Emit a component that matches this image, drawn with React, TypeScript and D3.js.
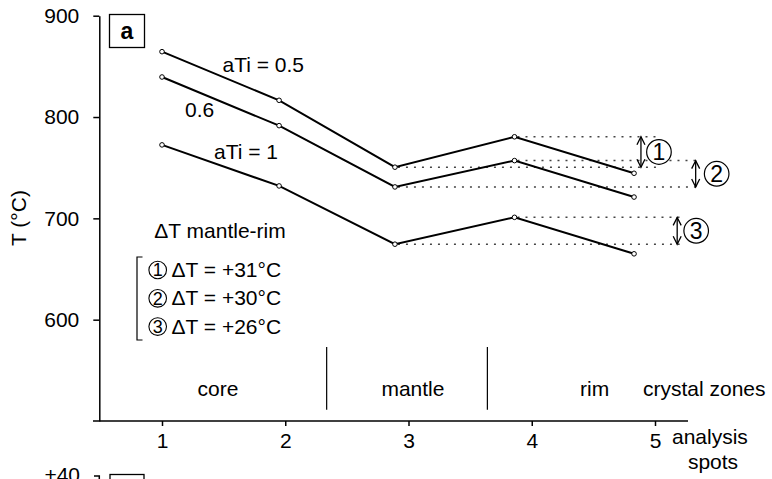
import React, { useEffect, useRef } from "react";
import * as d3 from "d3";

// analysis spots (as placed along the x axis) and temperatures per aTi
const spots = [1, 1.95, 2.89, 3.86, 4.83];
const tAti05 = [864.5, 816.5, 750.5, 780.5, 744.5];
const tAti06 = [839.5, 791.5, 731, 757, 721];
const tAti1 = [772.5, 732, 674.5, 701, 665];
const seriesNames = ["aTi = 0.5", "0.6", "aTi = 1"];

const xTicks = [1, 2, 3, 4, 5];
const yTicks = [600, 700, 800, 900];

const zoneNames = ["core", "mantle", "rim"];
const zoneCenters = [1.454, 3.036, 4.51];
const zoneBounds = [2.336, 3.64];

const circledNumbers = ["1", "2", "3"];
const deltaLabels = ["ΔT = +31°C", "ΔT = +30°C", "ΔT = +26°C"];
// where the double arrow sits and how far the dotted guides reach (x units)
const arrowSpots = [4.886, 5.33, 5.18];
const guideEnds = [5.02, 5.36, 5.2];

const FONT = "'Liberation Sans', Arial, Helvetica, sans-serif";

const App = () => {
  const ref = useRef<SVGSVGElement>(null);

  useEffect(() => {
    const svg = d3.select(ref.current);
    svg.selectAll("*").remove();

    const x = d3.scaleLinear().domain([1, 5]).range([162, 655]);
    const y = d3.scaleLinear().domain([500, 900]).range([421, 15.7]);

    const g = svg.append("g").style("font-family", FONT);

    // X axis
    const gx = g
      .append("g")
      .attr("transform", `translate(0,${y(500)})`)
      .call(
        d3.axisBottom(x).tickValues(xTicks).tickSize(5).tickPadding(7).tickFormat(d3.format("d"))
      );
    gx.select(".domain").remove();
    gx.append("line")
      .attr("x1", 93)
      .attr("x2", 688)
      .attr("stroke", "#000")
      .attr("stroke-width", 1.5);
    gx.selectAll(".tick line").attr("stroke-width", 1.5);
    gx.selectAll("text").style("font-size", "21px").attr("fill", "#000").style("font-family", FONT);

    // Y axis
    const gy = g
      .append("g")
      .attr("transform", `translate(${99.3},0)`)
      .call(d3.axisLeft(y).tickValues(yTicks).tickSize(6).tickPadding(14).tickSizeOuter(0));
    gy.select(".domain").attr("stroke-width", 1.5);
    gy.selectAll(".tick line").attr("stroke-width", 1.5);
    gy.selectAll("text").style("font-size", "21px").attr("fill", "#000").style("font-family", FONT);

    g.append("text")
      .attr("transform", `translate(26,218) rotate(-90)`)
      .attr("text-anchor", "middle")
      .style("font-size", "21px")
      .text("T (°C)");

    // panel letter
    g.append("rect")
      .attr("x", 109.5)
      .attr("y", 14.5)
      .attr("width", 35)
      .attr("height", 33)
      .attr("fill", "none")
      .attr("stroke", "#000")
      .attr("stroke-width", 1.3);
    g.append("text")
      .attr("x", 127)
      .attr("y", 39)
      .attr("text-anchor", "middle")
      .style("font-size", "23px")
      .style("font-weight", "bold")
      .text("a");

    // crystal zones
    zoneBounds.forEach((b) => {
      g.append("line")
        .attr("x1", x(b))
        .attr("x2", x(b))
        .attr("y1", y(573))
        .attr("y2", y(511))
        .attr("stroke", "#000")
        .attr("stroke-width", 1.2);
    });
    zoneNames.forEach((z, i) => {
      g.append("text")
        .attr("x", x(zoneCenters[i]))
        .attr("y", 396)
        .attr("text-anchor", "middle")
        .style("font-size", "21px")
        .text(z);
    });
    g.append("text").attr("x", 643).attr("y", 396).style("font-size", "21px").text("crystal zones");
    g.append("text").attr("x", 672).attr("y", 444).style("font-size", "21px").text("analysis");
    g.append("text")
      .attr("x", 713)
      .attr("y", 469)
      .attr("text-anchor", "middle")
      .style("font-size", "21px")
      .text("spots");

    // dotted guides mantle (spot 3) and rim (spot 4)
    const allSeries = [tAti05, tAti06, tAti1];
    allSeries.forEach((s, i) => {
      [2, 3].forEach((k) => {
        g.append("line")
          .attr("x1", x(spots[k]) + 3)
          .attr("x2", x(guideEnds[i]))
          .attr("y1", y(s[k]))
          .attr("y2", y(s[k]))
          .attr("stroke", "#444")
          .attr("stroke-width", 1.5)
          .attr("stroke-dasharray", "2 6");
      });
    });

    // lines + points
    const line = d3
      .line<number>()
      .x((_, i) => x(spots[i]))
      .y((d) => y(d));
    allSeries.forEach((s) => {
      g.append("path")
        .attr("d", line(s))
        .attr("fill", "none")
        .attr("stroke", "#000")
        .attr("stroke-width", 2);
      g.selectAll(null)
        .data(s)
        .enter()
        .append("circle")
        .attr("cx", (_, i) => x(spots[i]))
        .attr("cy", (d) => y(d))
        .attr("r", 2.3)
        .attr("fill", "#fff")
        .attr("stroke", "#000")
        .attr("stroke-width", 1);
    });

    // series labels
    const labelPos = [
      [222.5, 72],
      [185, 117],
      [214, 159],
    ];
    seriesNames.forEach((n, i) => {
      g.append("text")
        .attr("x", labelPos[i][0])
        .attr("y", labelPos[i][1])
        .style("font-size", "21px")
        .text(n);
    });

    // double arrows with circled numbers
    const circleOffset = [18, 21, 19];
    allSeries.forEach((s, i) => {
      const ax = x(arrowSpots[i]);
      const yTop = y(s[3]);
      const yBot = y(s[2]);
      g.append("line")
        .attr("x1", ax)
        .attr("x2", ax)
        .attr("y1", yTop)
        .attr("y2", yBot)
        .attr("stroke", "#000")
        .attr("stroke-width", 1.3);
      g.append("path")
        .attr(
          "d",
          `M${ax - 4},${yTop + 8}L${ax},${yTop}L${ax + 4},${yTop + 8}M${ax - 4},${yBot - 8}L${ax},${yBot}L${ax + 4},${yBot - 8}`
        )
        .attr("fill", "none")
        .attr("stroke", "#000")
        .attr("stroke-width", 1.3);
      const cx = ax + circleOffset[i];
      const cy = (yTop + yBot) / 2;
      g.append("circle")
        .attr("cx", cx)
        .attr("cy", cy)
        .attr("r", 12.3)
        .attr("fill", "#fff")
        .attr("stroke", "#000")
        .attr("stroke-width", 1.2);
      g.append("text")
        .attr("x", cx)
        .attr("y", cy + 8)
        .attr("text-anchor", "middle")
        .style("font-size", "23px")
        .text(circledNumbers[i]);
    });

    // ΔT legend
    g.append("text")
      .attr("x", 220)
      .attr("y", 238)
      .attr("text-anchor", "middle")
      .style("font-size", "21px")
      .text("ΔT mantle-rim");
    g.append("path")
      .attr("d", "M142.5,257L137,257L137,340L142.5,340")
      .attr("fill", "none")
      .attr("stroke", "#000")
      .attr("stroke-width", 1.2);
    deltaLabels.forEach((d, i) => {
      const cy = 270 + i * 28.3;
      g.append("circle")
        .attr("cx", 157.7)
        .attr("cy", cy)
        .attr("r", 8.8)
        .attr("fill", "none")
        .attr("stroke", "#000")
        .attr("stroke-width", 1.1);
      g.append("text")
        .attr("x", 157.7)
        .attr("y", cy + 6.4)
        .attr("text-anchor", "middle")
        .style("font-size", "18px")
        .text(circledNumbers[i]);
      g.append("text")
        .attr("x", 171.5)
        .attr("y", cy + 7)
        .style("font-size", "21px")
        .text(d);
    });

    // top of the next panel, cut off by the frame
    g.append("text")
      .attr("x", 80)
      .attr("y", 482)
      .attr("text-anchor", "end")
      .style("font-size", "21px")
      .text("+40");
    g.append("path")
      .attr("d", "M94,476L99.3,476L99.3,490")
      .attr("fill", "none")
      .attr("stroke", "#000")
      .attr("stroke-width", 1.5);
    g.append("rect")
      .attr("x", 110)
      .attr("y", 474.5)
      .attr("width", 34)
      .attr("height", 30)
      .attr("fill", "none")
      .attr("stroke", "#000")
      .attr("stroke-width", 1.3);
  }, []);

  return (
    <svg
      ref={ref}
      width={772}
      height={479}
      style={{ position: "absolute", left: 0, top: 0, background: "#fff" }}
    />
  );
};

export default App;
